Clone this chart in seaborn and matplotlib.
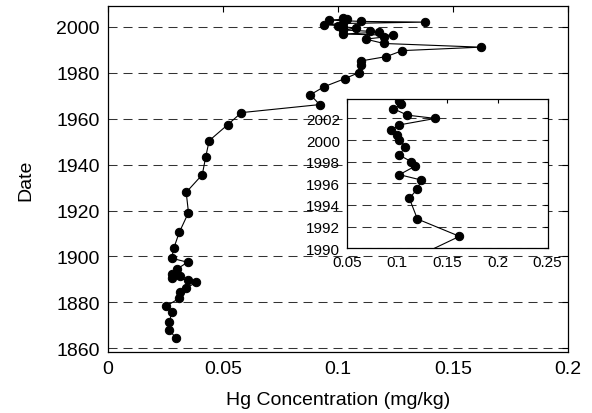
import matplotlib
matplotlib.use("Agg")
import matplotlib.pyplot as plt
import seaborn as sns
import pandas as pd

# Data (date vs Hg concentration, mg/kg)
dates = [2003.6, 2003.3, 2002.9, 2002.3, 2002.0, 2001.4, 2000.9, 2000.5, 2000.0,
         1999.4, 1998.6, 1998.0, 1997.6, 1996.8, 1996.3, 1995.5, 1994.6, 1992.7,
         1991.1, 1989.6, 1987.0, 1985.1, 1983.5, 1980.0, 1977.4, 1973.9, 1970.4,
         1966.1, 1962.6, 1957.3, 1950.4, 1943.4, 1935.6, 1927.9, 1919.1, 1910.5,
         1903.6, 1899.2, 1897.5, 1894.5, 1892.4, 1891.6, 1890.5, 1889.9, 1888.7,
         1886.1, 1884.4, 1881.8, 1878.3, 1875.7, 1871.3, 1868.1, 1864.5]
hg = [0.102, 0.104, 0.096, 0.110, 0.138, 0.102, 0.094, 0.100, 0.102,
      0.108, 0.102, 0.114, 0.118, 0.102, 0.124, 0.120, 0.112, 0.120,
      0.162, 0.128, 0.121, 0.110, 0.110, 0.109, 0.103, 0.094, 0.088,
      0.092, 0.058, 0.052, 0.044, 0.0425, 0.041, 0.034, 0.035, 0.031,
      0.0286, 0.0277, 0.0346, 0.030, 0.028, 0.0313, 0.0277, 0.0346, 0.0383,
      0.0338, 0.0313, 0.031, 0.0252, 0.0277, 0.0267, 0.0267, 0.0294]

main_xticks = [0, 0.05, 0.1, 0.15, 0.2]
main_xticklabels = ["0", "0.05", "0.1", "0.15", "0.2"]
main_yticks = [1860, 1880, 1900, 1920, 1940, 1960, 1980, 2000]
inset_xticks = [0.05, 0.1, 0.15, 0.2, 0.25]
inset_xticklabels = ["0.05", "0.1", "0.15", "0.2", "0.25"]
inset_yticks = [1990, 1992, 1994, 1996, 1998, 2000, 2002]

df = pd.DataFrame({"Date": dates, "Hg": hg})

sns.set_style("white")
plt.rcParams["font.family"] = ["Liberation Sans", "DejaVu Sans"]
plt.rcParams["lines.scale_dashes"] = False
plt.rcParams["text.color"] = "black"
plt.rcParams["axes.labelcolor"] = "black"

fig = plt.figure(figsize=(5.92, 4.14), dpi=100)
ax = fig.add_axes([0.1824, 0.1473, 0.7771, 0.8357])

def draw(a, ms):
    sns.lineplot(data=df, x="Hg", y="Date", sort=False, estimator=None,
                 color="black", linewidth=0.8, marker="o", markersize=ms,
                 markeredgecolor="black", markerfacecolor="black", ax=a,
                 legend=False)

draw(ax, 6)
ax.set_xlim(0, 0.2)
ax.set_ylim(1858.4, 2009)
ax.set_xticks(main_xticks)
ax.set_xticklabels(main_xticklabels)
ax.set_yticks(main_yticks)
ax.tick_params(direction="in", length=4, width=0.8, labelsize=14, pad=6,
               top=True, right=True, colors="black")
ax.yaxis.grid(True, color="#333333", linewidth=0.75, linestyle=(0, (6.5, 4.3)))
ax.xaxis.grid(False)
for s in ax.spines.values():
    s.set_color("black")
    s.set_linewidth(0.9)
ax.set_xlabel("Hg Concentration (mg/kg)", fontsize=14, labelpad=10, color="black")
ax.set_ylabel("Date", fontsize=14, labelpad=16, color="black")

ins = fig.add_axes([0.5866, 0.398, 0.3385, 0.3606])
ins.set_facecolor("white")
draw(ins, 6)
ins.set_xlim(0.05, 0.25)
ins.set_ylim(1990, 2003.8)
ins.set_xticks(inset_xticks)
ins.set_xticklabels(inset_xticklabels)
ins.set_yticks(inset_yticks)
ins.tick_params(direction="in", length=3, width=0.8, labelsize=11, pad=5,
                top=True, right=True, colors="black")
ins.yaxis.grid(True, color="#333333", linewidth=0.75, linestyle=(0, (6.5, 4.3)))
ins.xaxis.grid(False)
ins.set_xlabel("")
ins.set_ylabel("")
for s in ins.spines.values():
    s.set_color("black")
    s.set_linewidth(0.9)

fig.savefig("out.png", dpi=100)
